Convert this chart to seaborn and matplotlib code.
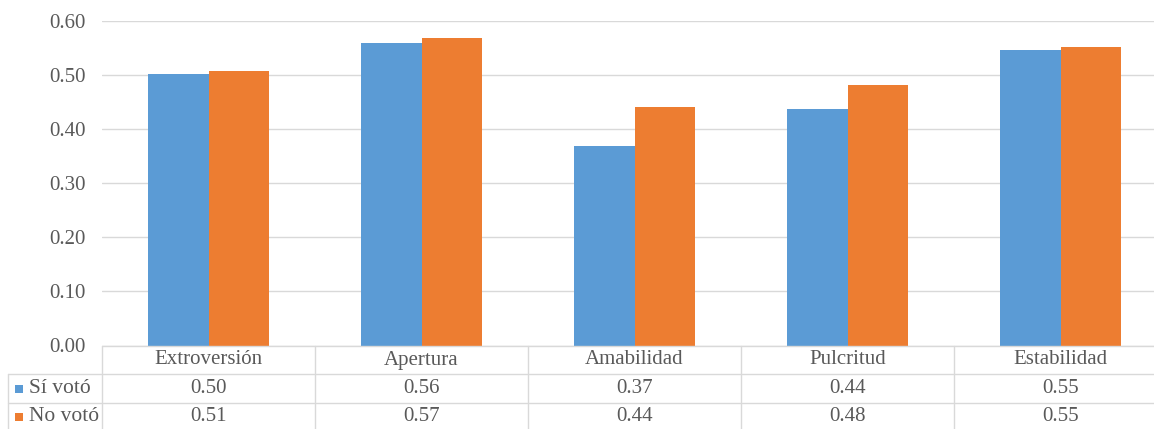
"""Bar chart with Excel-style data table: personality traits by vote."""

import numpy as np
import pandas as pd
import seaborn as sns
import matplotlib.pyplot as plt
from matplotlib.lines import Line2D
from matplotlib.patches import Rectangle

categorias = ["Extroversión", "Apertura", "Amabilidad", "Pulcritud", "Estabilidad"]
series = ["Sí votó", "No votó"]
si_voto = [0.501, 0.558, 0.368, 0.436, 0.546]
no_voto = [0.506, 0.567, 0.440, 0.481, 0.551]
colores = ["#5B9BD5", "#ED7D31"]

df = pd.DataFrame({
    "categoria": categorias * 2,
    "serie": [series[0]] * len(categorias) + [series[1]] * len(categorias),
    "valor": si_voto + no_voto,
})

sns.set_theme(style="white")
plt.rcParams["font.family"] = ["Liberation Serif", "DejaVu Serif"]

W, H = 1154, 429
fig = plt.figure(figsize=(W / 100, H / 100), dpi=100)
# plot area in pixels
x0, x1, y_top, y_bot = 102, 1167, 20.5, 345.5
ax = fig.add_axes([x0 / W, 1 - y_bot / H, (x1 - x0) / W, (y_bot - y_top) / H])

sns.barplot(data=df, x="categoria", y="valor", hue="serie", palette=colores,
            width=0.57, gap=0, saturation=1, edgecolor="none", legend=False, ax=ax)

gris = "#595959"
linea = "#D9D9D9"
ax.set_ylim(0, 0.6)
ax.set_xlim(-0.5, len(categorias) - 0.5)
ax.set_yticks(np.arange(0, 0.61, 0.1))
ax.set_yticklabels([f"{v:.2f}" for v in np.arange(0, 0.61, 0.1)])
ax.tick_params(axis="y", length=0, pad=12, labelsize=15, labelcolor=gris)
ax.set_xticks([])
ax.set_xlabel("")
ax.set_ylabel("")
ax.yaxis.grid(True, color=linea, linewidth=1)
ax.set_axisbelow(True)
for s in ax.spines.values():
    s.set_visible(False)


def fx(px):
    return px / W


def fy(py):
    return 1 - py / H


# table grid lines (figure coords)
tf = fig.transFigure
row_lines = [y_bot, 374, 403]
fig.add_artist(Line2D([fx(x0), fx(x1)], [fy(y_bot)] * 2, transform=tf, color=linea, lw=1))
for py in row_lines[1:]:
    fig.add_artist(Line2D([fx(8), fx(x1)], [fy(py)] * 2, transform=tf, color=linea, lw=1))
fig.add_artist(Line2D([fx(8), fx(8)], [fy(374), fy(H + 2)], transform=tf, color=linea, lw=1))
cw = (x1 - x0) / len(categorias)
for i in range(len(categorias) + 1):
    px = x0 + i * cw
    fig.add_artist(Line2D([fx(px)] * 2, [fy(y_bot), fy(H + 2)], transform=tf, color=linea, lw=1))

# header and values
row_centers = [360, 388.5, 416.5]
for i, cat in enumerate(categorias):
    cx = fx(x0 + (i + 0.5) * cw)
    fig.text(cx, fy(row_centers[0]), cat, ha="center", va="center", fontsize=15, color=gris)
    fig.text(cx, fy(row_centers[1]), f"{si_voto[i]:.2f}", ha="center", va="center", fontsize=15, color=gris)
    fig.text(cx, fy(row_centers[2]), f"{no_voto[i]:.2f}", ha="center", va="center", fontsize=15, color=gris)

# legend keys in the row headers
for j, (nombre, col) in enumerate(zip(series, colores)):
    cy = row_centers[j + 1]
    fig.add_artist(Rectangle((fx(15), fy(cy + 4)), fx(8), 8 / H, transform=tf,
                             facecolor=col, edgecolor="none"))
    fig.text(fx(29), fy(cy), nombre, ha="left", va="center", fontsize=15.5, color=gris)

fig.savefig("out.png", dpi=100)
